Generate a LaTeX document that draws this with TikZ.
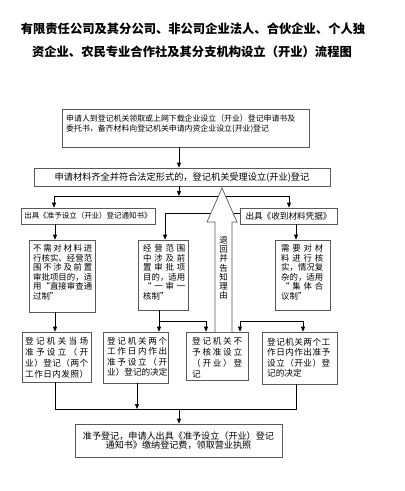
\documentclass[tikz,border=0pt]{standalone}
\usepackage{fontspec}
\setmainfont{Noto Sans CJK SC}
\usetikzlibrary{arrows.meta,calc}
\def\myjlA#1#2{#1\ifx\relax#2\else\hfil\expandafter\myjlA\expandafter#2\fi}
\newcommand\myjl[2]{\hbox to #1{\myjlA#2\relax}}
\tikzset{
  box/.style={draw=black!65, line width=0.7pt, fill=white, inner sep=0pt, rectangle},
  txt/.style={inner sep=0pt, align=left, text=black},
  ctxt/.style={inner sep=0pt, align=center, text=black},
  arr/.style={-{Triangle[length=5pt,width=4pt]}, line width=0.7pt},
  ln/.style={line width=0.7pt},
}
\begin{document}
\begin{tikzpicture}[x=1pt,y=-1pt]
\useasboundingbox[fill=white] (0,0) rectangle (405,491);
% title
\node[ctxt, font=\fontsize{12.3}{14}\selectfont\bfseries] (t1) at (193,29) {有限责任公司及其分公司、非公司企业法人、合伙企业、个人独};
\node[ctxt, font=\fontsize{12.3}{14}\selectfont\bfseries] (t2) at (192,52) {资企业、农民专业合作社及其分支机构设立（开业）流程图};
% boxes
\node[box, minimum width=247pt, minimum height=38pt] (box1) at (185.5,128) {};
\node[txt, font=\fontsize{7.9}{10}\selectfont, anchor=north west] (box1t) at (66,114.5) {申请人到登记机关领取或上网下载企业设立（开业）登记申请书及\\委托书，备齐材料向登记机关申请内资企业设立(开业)登记};
\node[box, minimum width=296pt, minimum height=18pt, font=\fontsize{9.2}{11}\selectfont] (box2) at (182,177) {申请材料齐全并符合法定形式的，登记机关受理设立(开业)登记};
\node[box, minimum width=134pt, minimum height=16pt, font=\fontsize{7.5}{9}\selectfont] (notice) at (88,216) {出具《准予设立（开业）登记通知书》};
\node[box, minimum width=97pt, minimum height=16pt, font=\fontsize{8.6}{10}\selectfont] (receipt) at (288.5,216) {出具《收到材料凭据》};
\node[box, minimum width=66pt, minimum height=72pt] (A) at (62,276) {};
\node[txt, font=\fontsize{8.4}{9.6}\selectfont, anchor=north west] (At) at (33,244.2) {\myjl{59pt}{不需对材料进}\\\myjl{59pt}{行核实、经营范}\\\myjl{59pt}{围不涉及前置}\\\myjl{59pt}{审批项目的，适}\\\myjl{59pt}{用“直接审查通}\\过制”};
\node[box, minimum width=50pt, minimum height=70pt] (Y) at (163,275) {};
\node[txt, font=\fontsize{8.4}{9.6}\selectfont, anchor=north west] (Yt) at (143,244.2) {\myjl{42pt}{经营范围}\\\myjl{42pt}{中涉及前}\\\myjl{42pt}{置审批项}\\\myjl{42pt}{目的，适用}\\\myjl{42pt}{“一审一}\\核制”};
\node[box, minimum width=55pt, minimum height=70pt] (J) at (302.5,275) {};
\node[txt, font=\fontsize{8.4}{9.6}\selectfont, anchor=north west] (Jt) at (281,244.2) {\myjl{42pt}{需要对材}\\\myjl{42pt}{料进行核}\\\myjl{42pt}{实，情况复}\\\myjl{42pt}{杂的，适用}\\\myjl{42pt}{“集体合}\\议制”};
\node[box, minimum width=69pt, minimum height=50pt] (B1) at (56.5,357) {};
\node[txt, font=\fontsize{8.6}{11}\selectfont, anchor=north west] (B1t) at (25,337) {\myjl{63pt}{登记机关当场}\\\myjl{63pt}{准予设立（开}\\\myjl{63pt}{业）登记（两个}\\\myjl{63pt}{工作日内发照）}};
\node[box, minimum width=65pt, minimum height=51pt] (B2) at (135.5,357.5) {};
\node[txt, font=\fontsize{8.6}{10.5}\selectfont, anchor=north west] (B2t) at (107,337) {\myjl{60pt}{登记机关两个}\\\myjl{60pt}{工作日内作出}\\\myjl{60pt}{准予设立（开}\\\myjl{60pt}{业）登记的决定}};
\node[box, minimum width=62pt, minimum height=48pt] (B3) at (217,356) {};
\node[txt, font=\fontsize{8.6}{11}\selectfont, anchor=north west] (B3t) at (192,337) {\myjl{50pt}{登记机关不}\\\myjl{50pt}{予核准设立}\\\myjl{50pt}{（开业）登}\\记};
\node[box, minimum width=75pt, minimum height=52pt] (B4) at (299.5,358) {};
\node[txt, font=\fontsize{8.6}{10.3}\selectfont, anchor=north west] (B4t) at (267,338) {\myjl{63pt}{登记机关两个工}\\\myjl{63pt}{作日内作出准予}\\\myjl{63pt}{设立（开业）登}\\记的决定};
\node[box, minimum width=207pt, minimum height=33pt, align=center, font=\fontsize{9.1}{9.6}\selectfont] (F) at (178.5,440.5) {准予登记，申请人出具《准予设立（开业）登记\\通知书》缴纳登记费，领取营业执照};
% coordinates
\coordinate (c179) at (179,0);
\coordinate (sL) at (54,196);
\coordinate (sR) at (289,196);
\coordinate (sM) at (179,196);
\coordinate (cA) at (55,0);
\coordinate (yT) at (165,213);
\coordinate (cJ) at (296,0);
\coordinate (yB) at (159,321);
\coordinate (yB3) at (206,321);
\coordinate (jR) at (303,321);
\coordinate (jL) at (240,321);
\coordinate (mL) at (55,409);
\coordinate (mR) at (296,409);
\coordinate (mM) at (179,409);
\coordinate (b2x) at (137,409);
% connectors
\draw[arr] (box1.south -| c179) -- (box2.north -| c179);
\draw[arr] (box2.south -| sM) -- (sM);
\draw[ln] (sL) -- (sR);
\draw[arr] (sL) -- (notice.north -| sL);
\draw[arr] (sR) -- (receipt.north -| sR);
\draw[arr] (notice.south -| cA) -- (A.north -| cA);
\draw[arr] (receipt.west |- yT) -- (yT) -- (Y.north -| yT);
\draw[arr] (receipt.south -| cJ) -- (J.north -| cJ);
\draw[arr] (A.south -| cA) -- (B1.north -| cA);
\draw[arr] (Y.south -| yB) -- (B2.north -| yB);
\draw[arr] (yB) -- (yB3) -- (B3.north -| yB3);
\draw[arr] (jL) -- (jR) -- (B4.north -| jR);
\draw[arr] (jL) -- (B3.north -| jL);
\draw[ln] (B1.south -| mL) -- (mL) -- (mR) -- (B4.south -| mR);
\draw[arr] (B2.south -| b2x) -- (b2x);
\draw[arr] (mM) -- (F.north -| mM);
% hollow return arrow
\draw[line width=0.7pt, draw=black!65, fill=white] (215,332) -- (215,222) -- (207,222) -- (222,188) -- (237,222) -- (232,222) -- (232,332);
\node[ctxt, font=\fontsize{8.5}{9.3}\selectfont] (ret) at (223.5,268) {退\\回\\并\\告\\知\\理\\由};
\end{tikzpicture}
\end{document}
